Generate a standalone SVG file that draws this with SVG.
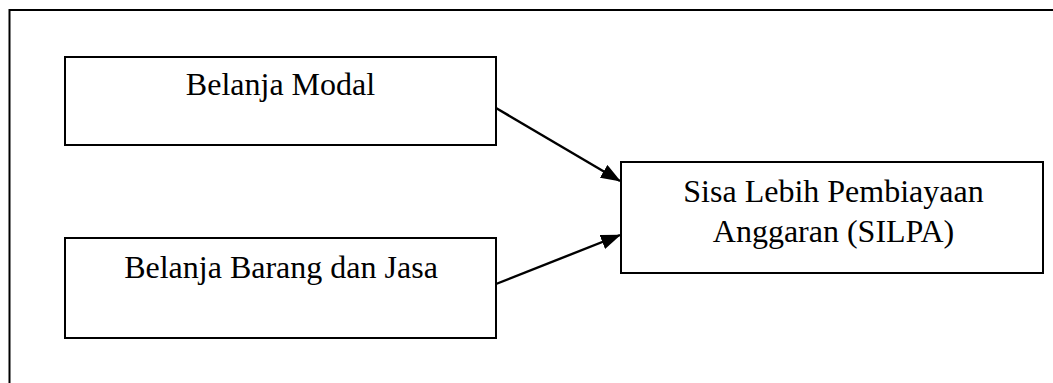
<svg xmlns="http://www.w3.org/2000/svg" width="1053" height="383" viewBox="0 0 1053 383">
<style>
.box{fill:#fff;stroke:#000;stroke-width:2}
.lbl{font-family:"Liberation Serif","Times New Roman",serif;font-size:32px;fill:#000;text-anchor:middle}
.conn{stroke:#000;stroke-width:2.4;fill:none;marker-end:url(#ah)}
</style>
<defs>
<marker id="ah" markerWidth="20" markerHeight="15" refX="19" refY="7.5" orient="auto" markerUnits="userSpaceOnUse">
<path d="M0,0 L20,7.5 L0,15 Z" fill="#000"/>
</marker>
</defs>
<rect width="1053" height="383" fill="#fff"/>
<g id="frame">
<path d="M9.5,383 V10 H1053" fill="none" stroke="#000" stroke-width="2"/>
</g>
<g id="connectors">
<line class="conn" x1="496" y1="108" x2="620" y2="181"/>
<line class="conn" x1="496" y1="284" x2="620" y2="235"/>
</g>
<g id="belanja-modal">
<rect class="box" x="65" y="57" width="431" height="88"/>
<text class="lbl" x="280.5" y="95">Belanja Modal</text>
</g>
<g id="belanja-barang">
<rect class="box" x="65" y="238" width="431" height="100"/>
<text class="lbl" x="281" y="278">Belanja Barang dan Jasa</text>
</g>
<g id="silpa">
<rect class="box" x="621" y="162" width="422" height="111"/>
<text class="lbl" x="833.5" y="202">Sisa Lebih Pembiayaan</text>
<text class="lbl" x="833.5" y="242">Anggaran (SILPA)</text>
</g>
</svg>
